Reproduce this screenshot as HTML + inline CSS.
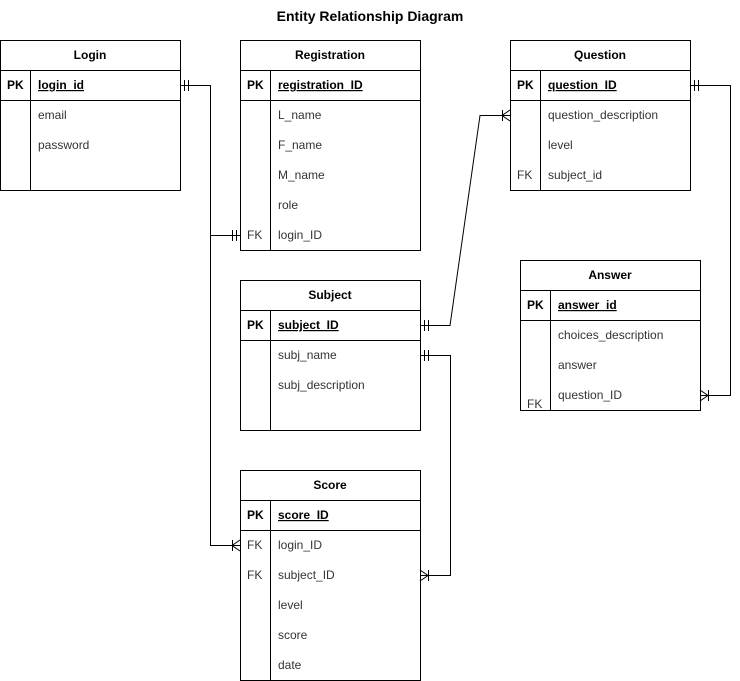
<!DOCTYPE html>
<html><head><meta charset="utf-8"><style>
html,body{margin:0;padding:0;background:#fff;}
svg{display:block;}
text{font-family:"Liberation Sans",Arial,sans-serif;font-size:12px;fill:#000;}
.h{font-weight:bold;}
.b{font-weight:bold;text-decoration:underline;}
.k{fill:#333;}
.n{fill:#333;}
</style></head><body>
<svg width="740" height="681" viewBox="0 0 740 681" xmlns="http://www.w3.org/2000/svg">
<text x="370" y="21" text-anchor="middle" class="h" style="font-size:14px">Entity Relationship Diagram</text>
<g fill="none" stroke="#000" stroke-width="1" shape-rendering="crispEdges">
<!-- Login -->
<rect x="0.5" y="40.5" width="180" height="150"/>
<line x1="0" y1="70.5" x2="180" y2="70.5"/><line x1="0" y1="100.5" x2="180" y2="100.5"/>
<line x1="30.5" y1="70" x2="30.5" y2="190"/>
<!-- Registration -->
<rect x="240.5" y="40.5" width="180" height="210"/>
<line x1="240" y1="70.5" x2="420" y2="70.5"/><line x1="240" y1="100.5" x2="420" y2="100.5"/>
<line x1="270.5" y1="70" x2="270.5" y2="250"/>
<!-- Question -->
<rect x="510.5" y="40.5" width="180" height="150"/>
<line x1="510" y1="70.5" x2="690" y2="70.5"/><line x1="510" y1="100.5" x2="690" y2="100.5"/>
<line x1="540.5" y1="70" x2="540.5" y2="190"/>
<!-- Answer -->
<rect x="520.5" y="260.5" width="180" height="150"/>
<line x1="520" y1="290.5" x2="700" y2="290.5"/><line x1="520" y1="320.5" x2="700" y2="320.5"/>
<line x1="550.5" y1="290" x2="550.5" y2="410"/>
<!-- Subject -->
<rect x="240.5" y="280.5" width="180" height="150"/>
<line x1="240" y1="310.5" x2="420" y2="310.5"/><line x1="240" y1="340.5" x2="420" y2="340.5"/>
<line x1="270.5" y1="310" x2="270.5" y2="430"/>
<!-- Score -->
<rect x="240.5" y="470.5" width="180" height="210"/>
<line x1="240" y1="500.5" x2="420" y2="500.5"/><line x1="240" y1="530.5" x2="420" y2="530.5"/>
<line x1="270.5" y1="500" x2="270.5" y2="680"/>
</g>
<g fill="none" stroke="#000" stroke-width="1">
<!-- login -> registration / score -->
<polyline points="180,85.5 210.5,85.5 210.5,545.5 240,545.5"/>
<line x1="210" y1="235.5" x2="240" y2="235.5"/>
<line x1="184.5" y1="80" x2="184.5" y2="91"/><line x1="188.5" y1="80" x2="188.5" y2="91"/>
<line x1="232.5" y1="230" x2="232.5" y2="241"/><line x1="236.5" y1="230" x2="236.5" y2="241"/>
<line x1="232.5" y1="540" x2="232.5" y2="551"/><polyline points="240,540 232,545.5 240,551"/>
<!-- subject -> question -->
<polyline points="420,325.5 450,325.5 480,115.5 510,115.5"/>
<line x1="424.5" y1="320" x2="424.5" y2="331"/><line x1="428.5" y1="320" x2="428.5" y2="331"/>
<line x1="502.5" y1="110" x2="502.5" y2="121"/><polyline points="510,110 502,115.5 510,121"/>
<!-- subject -> score -->
<polyline points="420,355.5 450.5,355.5 450.5,575.5 420,575.5"/>
<line x1="424.5" y1="350" x2="424.5" y2="361"/><line x1="428.5" y1="350" x2="428.5" y2="361"/>
<line x1="428.5" y1="570" x2="428.5" y2="581"/><polyline points="420,570 428,575.5 420,581"/>
<!-- question -> answer -->
<polyline points="690,85.5 730.5,85.5 730.5,395.5 700,395.5"/>
<line x1="694.5" y1="80" x2="694.5" y2="91"/><line x1="698.5" y1="80" x2="698.5" y2="91"/>
<line x1="708.5" y1="390" x2="708.5" y2="401"/><polyline points="700,390 708,395.5 700,401"/>
</g>
<!-- Login text -->
<text x="90" y="59" text-anchor="middle" class="h">Login</text>
<text x="7" y="89" class="h">PK</text><text x="38" y="89" class="b">login_id</text>
<text x="38" y="119" class="n">email</text><text x="38" y="149" class="n">password</text>
<!-- Registration -->
<text x="330" y="59" text-anchor="middle" class="h">Registration</text>
<text x="247" y="89" class="h">PK</text><text x="278" y="89" class="b">registration_ID</text>
<text x="278" y="119" class="n">L_name</text><text x="278" y="149" class="n">F_name</text>
<text x="278" y="179" class="n">M_name</text><text x="278" y="209" class="n">role</text>
<text x="247" y="239" class="k">FK</text><text x="278" y="239" class="n">login_ID</text>
<!-- Question -->
<text x="600" y="59" text-anchor="middle" class="h">Question</text>
<text x="517" y="89" class="h">PK</text><text x="548" y="89" class="b">question_ID</text>
<text x="548" y="119" class="n">question_description</text><text x="548" y="149" class="n">level</text>
<text x="517" y="179" class="k">FK</text><text x="548" y="179" class="n">subject_id</text>
<!-- Answer -->
<text x="610" y="279" text-anchor="middle" class="h">Answer</text>
<text x="527" y="309" class="h">PK</text><text x="558" y="309" class="b">answer_id</text>
<text x="558" y="339" class="n">choices_description</text><text x="558" y="369" class="n">answer</text>
<text x="558" y="399" class="n">question_ID</text><text x="527" y="408" class="k">FK</text>
<!-- Subject -->
<text x="330" y="299" text-anchor="middle" class="h">Subject</text>
<text x="247" y="329" class="h">PK</text><text x="278" y="329" class="b">subject_ID</text>
<text x="278" y="359" class="n">subj_name</text><text x="278" y="389" class="n">subj_description</text>
<!-- Score -->
<text x="330" y="489" text-anchor="middle" class="h">Score</text>
<text x="247" y="519" class="h">PK</text><text x="278" y="519" class="b">score_ID</text>
<text x="247" y="549" class="k">FK</text><text x="278" y="549" class="n">login_ID</text>
<text x="247" y="579" class="k">FK</text><text x="278" y="579" class="n">subject_ID</text>
<text x="278" y="609" class="n">level</text><text x="278" y="639" class="n">score</text>
<text x="278" y="669" class="n">date</text>
</svg>
</body></html>
